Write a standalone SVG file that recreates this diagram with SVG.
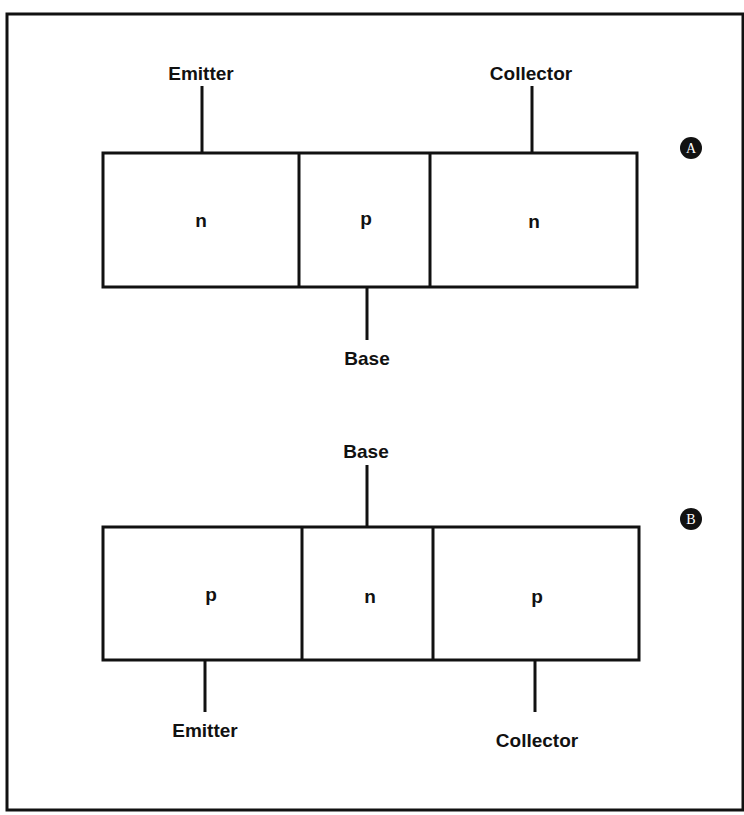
<svg xmlns="http://www.w3.org/2000/svg" width="744" height="815" viewBox="0 0 744 815">
  <style>
    .frame { fill: none; stroke: #111; stroke-width: 3; }
    .block { fill: #fff; stroke: #111; stroke-width: 3; }
    .div { stroke: #111; stroke-width: 3; }
    .lead { stroke: #111; stroke-width: 3; }
    .lbl { font-family: "Liberation Sans", Arial, sans-serif; font-weight: bold; font-size: 19px; fill: #111; text-anchor: middle; }
    .dop { font-family: "Liberation Sans", Arial, sans-serif; font-weight: bold; font-size: 19px; fill: #111; text-anchor: middle; }
    .badge { fill: #111; }
    .badge-t { font-family: "Liberation Serif", "Times New Roman", serif; font-size: 14px; fill: #fff; text-anchor: middle; }
  </style>
  <rect width="744" height="815" fill="#fff"/>
  <rect class="frame" x="7" y="14" width="736" height="796"/>

  <!-- connectors: terminal leads -->
  <g id="connectors">
    <line class="lead" x1="202" y1="86" x2="202" y2="153"/>
    <line class="lead" x1="532" y1="86" x2="532" y2="152"/>
    <line class="lead" x1="367" y1="287" x2="367" y2="340"/>
    <line class="lead" x1="367" y1="465" x2="367" y2="527"/>
    <line class="lead" x1="205" y1="660" x2="205" y2="712"/>
    <line class="lead" x1="535" y1="659" x2="535" y2="712"/>
  </g>

  <!-- NPN transistor -->
  <g id="npn">
    <rect class="block" x="103" y="153" width="534" height="134"/>
    <line class="div" x1="299" y1="153" x2="299" y2="287"/>
    <line class="div" x1="430" y1="153" x2="430" y2="287"/>
    <text class="dop" x="201" y="227">n</text>
    <text class="dop" x="366" y="225">p</text>
    <text class="dop" x="534" y="228">n</text>
  </g>
  <g id="npn-emitter"><text class="lbl" x="201" y="80">Emitter</text></g>
  <g id="npn-collector"><text class="lbl" x="531" y="80">Collector</text></g>
  <g id="npn-base"><text class="lbl" x="367" y="365">Base</text></g>
  <g id="badge-a">
    <circle class="badge" cx="691" cy="148" r="11"/>
    <text class="badge-t" x="691" y="153">A</text>
  </g>

  <!-- PNP transistor -->
  <g id="pnp">
    <rect class="block" x="103" y="527" width="536" height="133"/>
    <line class="div" x1="302" y1="527" x2="302" y2="660"/>
    <line class="div" x1="433" y1="527" x2="433" y2="660"/>
    <text class="dop" x="211" y="601">p</text>
    <text class="dop" x="370" y="603">n</text>
    <text class="dop" x="537" y="603">p</text>
  </g>
  <g id="pnp-base"><text class="lbl" x="366" y="458">Base</text></g>
  <g id="pnp-emitter"><text class="lbl" x="205" y="737">Emitter</text></g>
  <g id="pnp-collector"><text class="lbl" x="537" y="747">Collector</text></g>
  <g id="badge-b">
    <circle class="badge" cx="691" cy="519" r="11"/>
    <text class="badge-t" x="691" y="524">B</text>
  </g>
</svg>
